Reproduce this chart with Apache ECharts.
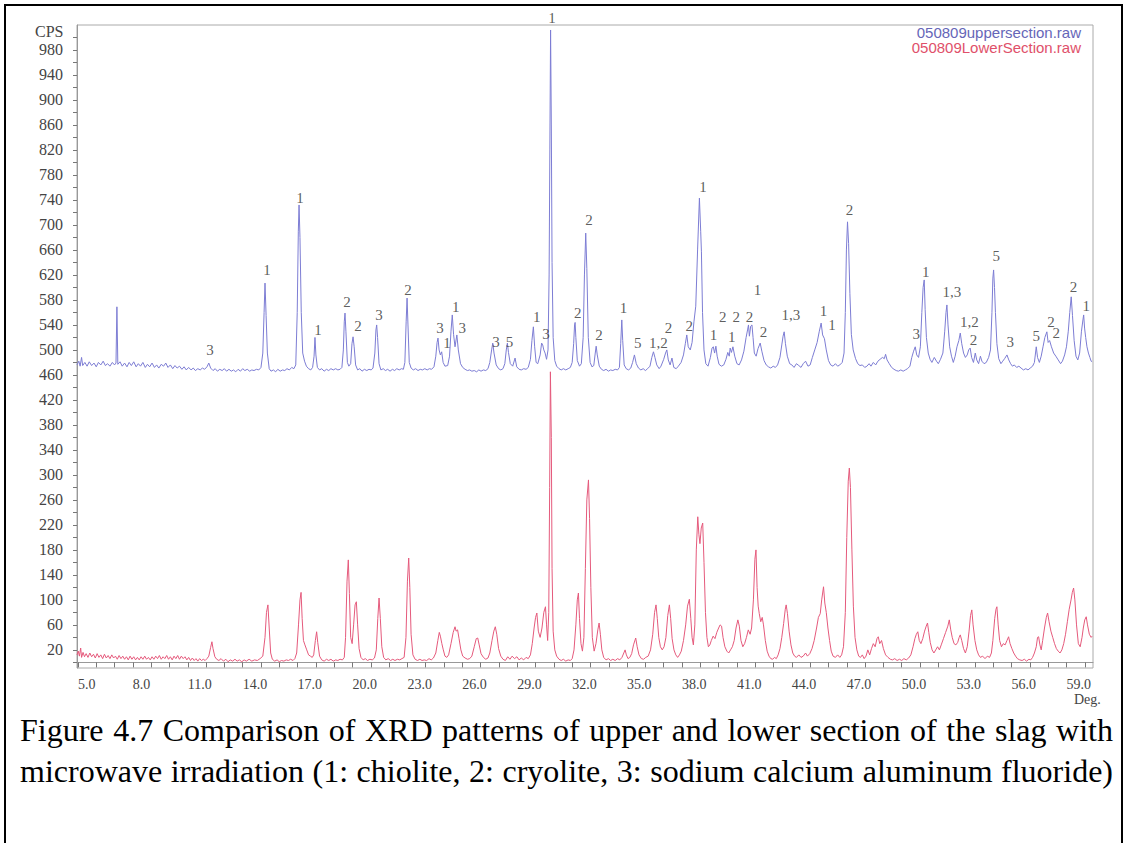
<!DOCTYPE html>
<html>
<head>
<meta charset="utf-8">
<title>XRD upper vs lower section</title>
<script src="https://cdn.jsdelivr.net/npm/echarts@6/dist/echarts.min.js"></script>
<style>
  html, body { margin: 0; padding: 0; background: #fff; }
  .page { position: relative; width: 1128px; height: 843px; overflow: hidden; }
  .frame {
    position: absolute; left: 4px; top: 4px; width: 1115px; height: 900px;
    border: 2px solid #000;
  }
  #xrdChart { position: absolute; left: 0; top: 0; width: 1128px; height: 715px; }
  .caption {
    position: absolute; left: 20px; top: 710px; width: 1093px;
    font-family: "Liberation Serif", "DejaVu Serif", serif;
    font-size: 32px; line-height: 41px; color: #000;
    text-align: justify; text-align-last: justify;
  }
</style>
</head>
<body>
<div class="page">
  <div class="frame"></div>
  <div id="xrdChart"></div>
  <div class="caption">Figure 4.7 Comparison of XRD patterns of upper and lower section of the slag with microwave irradiation (1: chiolite, 2: cryolite, 3: sodium calcium aluminum fluoride)</div>
</div>

<script>
// file names shown top right
const seriesNames = ['050809uppersection.raw', '050809LowerSection.raw']

// tick labels
const xLabels = [5, 8, 11, 14, 17, 20, 23, 26, 29, 32, 35, 38, 41, 44, 47, 50, 53, 56, 59]
const xTicks = [5, 6, 7, 8, 9, 10, 11, 12, 13, 14, 15, 16, 17, 18, 19, 20, 21, 22, 23, 24, 25, 26, 27, 28, 29, 30, 31, 32, 33, 34, 35, 36, 37, 38, 39, 40, 41, 42, 43, 44, 45, 46, 47, 48, 49, 50, 51, 52, 53, 54, 55, 56, 57, 58, 59, 60]
const yLabels = [20, 60, 100, 140, 180, 220, 260, 300, 340, 380, 420, 460, 500, 540, 580, 620, 660, 700, 740, 780, 820, 860, 900, 940, 980]
const yTicks = [0, 20, 40, 60, 80, 100, 120, 140, 160, 180, 200, 220, 240, 260, 280, 300, 320, 340, 360, 380, 400, 420, 440, 460, 480, 500, 520, 540, 560, 580, 600, 620, 640, 660, 680, 700, 720, 740, 760, 780, 800, 820, 840, 860, 880, 900, 920, 940, 960, 980, 1000]

// upper section pattern [2theta, CPS] (drawn offset above the lower one)
const upperTrace = [
  [4.95,476],[5.05,482],[5.12,474],[5.2,488],[5.26,475],[5.38,480],[5.5,474],[5.62,481],[5.75,475],[5.88,479],
  [6.0,473],[6.12,480],[6.25,476],[6.38,482],[6.5,475],[6.62,478],[6.75,474],[6.88,480],[7.0,476],[7.08,479],
  [7.13,569],[7.18,477],[7.3,481],[7.42,474],[7.55,479],[7.68,473],[7.8,480],[7.92,475],[8.05,481],[8.18,473],
  [8.3,478],[8.42,474],[8.55,480],[8.68,472],[8.8,477],[8.92,473],[9.05,479],[9.18,472],[9.3,476],[9.42,471],
  [9.55,477],[9.68,474],[9.8,479],[9.92,472],[10.05,476],[10.18,470],[10.3,475],[10.42,471],[10.55,474],[10.68,469],
  [10.8,473],[10.92,468],[11.05,472],[11.18,468],[11.3,471],[11.42,467],[11.55,470],[11.68,468],[11.8,471],[11.92,469],
  [12.05,473],[12.15,479],[12.25,471],[12.38,467],[12.5,470],[12.62,466],[12.75,469],[12.88,467],[13.0,470],[13.12,466],
  [13.25,469],[13.38,466],[13.5,468],[13.62,465],[13.75,469],[13.88,466],[14.0,470],[14.12,467],[14.25,469],[14.38,466],
  [14.5,468],[14.62,467],[14.75,469],[14.88,468],[15.0,472],[15.1,495],[15.17,560],[15.22,607],[15.28,555],[15.35,495],
  [15.45,470],[15.55,466],[15.68,468],[15.8,465],[15.92,469],[16.05,466],[16.18,468],[16.3,467],[16.42,470],[16.55,468],
  [16.68,472],[16.8,470],[16.9,476],[16.98,560],[17.04,690],[17.08,732],[17.13,680],[17.2,560],[17.28,495],[17.38,482],
  [17.48,474],[17.6,470],[17.72,468],[17.82,472],[17.9,490],[17.95,520],[18.0,492],[18.08,472],[18.2,468],[18.32,470],
  [18.45,466],[18.58,469],[18.7,467],[18.82,470],[18.95,468],[19.08,470],[19.2,468],[19.32,469],[19.42,472],[19.5,500],
  [19.55,545],[19.59,559],[19.64,530],[19.72,480],[19.8,474],[19.9,478],[19.97,510],[20.03,521],[20.09,505],[20.17,476],
  [20.28,468],[20.4,470],[20.52,466],[20.65,469],[20.78,467],[20.9,469],[21.02,468],[21.12,471],[21.22,495],[21.28,532],
  [21.32,540],[21.37,520],[21.45,478],[21.55,468],[21.68,470],[21.8,467],[21.92,469],[22.05,466],[22.18,469],[22.3,467],
  [22.42,470],[22.55,468],[22.68,470],[22.78,469],[22.86,480],[22.93,545],[22.98,583],[23.03,540],[23.1,480],[23.2,471],
  [23.32,468],[23.45,470],[23.58,467],[23.7,469],[23.82,468],[23.95,470],[24.08,468],[24.2,470],[24.32,469],[24.45,473],
  [24.55,490],[24.62,512],[24.67,519],[24.73,500],[24.8,492],[24.87,497],[24.95,480],[25.05,474],[25.2,475],[25.3,490],
  [25.38,530],[25.45,556],[25.52,525],[25.6,505],[25.7,524],[25.78,500],[25.9,478],[26.02,472],[26.15,469],[26.28,467],
  [26.4,468],[26.52,466],[26.65,467],[26.78,465],[26.9,468],[27.02,466],[27.15,468],[27.28,467],[27.4,470],[27.5,480],
  [27.6,500],[27.66,511],[27.73,495],[27.85,476],[27.98,470],[28.1,468],[28.22,470],[28.32,478],[28.4,500],[28.46,511],
  [28.52,496],[28.62,478],[28.75,474],[28.88,487],[28.97,473],[29.1,469],[29.22,468],[29.35,470],[29.48,469],[29.6,472],
  [29.72,485],[29.8,515],[29.88,537],[29.95,505],[30.03,480],[30.12,478],[30.25,492],[30.33,511],[30.39,508],[30.45,500],
  [30.52,495],[30.6,485],[30.68,500],[30.74,620],[30.78,820],[30.82,1012],[30.86,860],[30.9,640],[30.96,520],[31.05,483],
  [31.15,474],[31.28,470],[31.4,468],[31.52,470],[31.65,468],[31.78,470],[31.9,472],[32.0,480],[32.08,510],[32.13,540],
  [32.16,544],[32.2,520],[32.28,483],[32.4,474],[32.5,478],[32.6,520],[32.67,620],[32.74,687],[32.8,630],[32.88,520],
  [32.98,480],[33.08,473],[33.18,475],[33.26,495],[33.31,506],[33.37,492],[33.48,474],[33.6,469],[33.72,467],[33.85,469],
  [33.98,466],[34.1,468],[34.22,467],[34.35,469],[34.48,468],[34.58,472],[34.65,510],[34.71,548],[34.76,515],[34.84,476],
  [34.95,470],[35.08,468],[35.2,471],[35.3,480],[35.4,492],[35.5,478],[35.62,471],[35.75,468],[35.88,470],[36.0,467],
  [36.12,470],[36.25,474],[36.35,488],[36.44,497],[36.52,488],[36.62,476],[36.75,470],[36.85,474],[37.0,485],[37.1,495],
  [37.17,500],[37.25,484],[37.35,476],[37.45,487],[37.55,472],[37.68,470],[37.8,474],[37.95,480],[38.08,492],[38.18,510],
  [38.26,524],[38.34,505],[38.45,500],[38.55,512],[38.65,545],[38.75,570],[38.85,660],[38.95,743],[39.02,690],[39.06,657],
  [39.12,560],[39.2,500],[39.3,478],[39.42,474],[39.55,488],[39.64,503],[39.71,505],[39.78,495],[39.85,506],[39.92,490],
  [40.02,477],[40.15,474],[40.28,476],[40.4,485],[40.5,496],[40.58,490],[40.63,503],[40.7,496],[40.78,505],[40.88,490],
  [41.0,478],[41.12,476],[41.25,484],[41.38,498],[41.5,520],[41.58,532],[41.63,540],[41.68,522],[41.75,538],[41.82,540],
  [41.88,520],[41.95,495],[42.05,490],[42.15,502],[42.27,511],[42.36,498],[42.48,483],[42.6,476],[42.72,473],[42.85,471],
  [42.98,474],[43.1,472],[43.22,476],[43.35,488],[43.45,508],[43.52,522],[43.58,529],[43.65,510],[43.75,490],[43.88,478],
  [44.0,476],[44.12,472],[44.25,478],[44.38,475],[44.5,472],[44.62,478],[44.75,482],[44.88,474],[45.0,476],[45.12,488],
  [45.25,500],[45.38,512],[45.5,530],[45.6,543],[45.68,524],[45.78,518],[45.88,500],[46.0,483],[46.12,476],[46.25,474],
  [46.38,478],[46.5,474],[46.62,476],[46.75,480],[46.85,495],[46.92,560],[46.98,660],[47.04,705],[47.1,670],[47.17,590],
  [47.25,525],[47.35,500],[47.48,486],[47.6,478],[47.72,475],[47.85,476],[47.98,472],[48.1,474],[48.22,478],[48.32,474],
  [48.45,480],[48.58,476],[48.7,482],[48.82,485],[48.95,488],[49.05,486],[49.12,493],[49.2,484],[49.32,478],[49.45,472],
  [49.58,469],[49.7,467],[49.82,466],[49.95,468],[50.08,466],[50.2,468],[50.32,470],[50.45,474],[50.55,488],[50.65,498],
  [50.74,505],[50.82,492],[50.92,488],[51.02,505],[51.1,560],[51.17,600],[51.23,612],[51.28,565],[51.35,520],[51.45,495],
  [51.55,485],[51.65,480],[51.78,488],[51.9,482],[52.0,478],[52.12,485],[52.25,495],[52.35,530],[52.42,560],[52.47,572],
  [52.53,540],[52.62,505],[52.72,490],[52.82,480],[52.92,490],[53.02,505],[53.12,515],[53.2,527],[53.28,510],[53.38,495],
  [53.48,488],[53.58,492],[53.66,500],[53.74,503],[53.82,488],[53.92,480],[54.02,495],[54.1,484],[54.2,478],[54.3,490],
  [54.38,482],[54.5,478],[54.62,480],[54.75,488],[54.85,500],[54.93,560],[54.98,615],[55.02,628],[55.07,600],[55.12,560],
  [55.2,510],[55.3,486],[55.42,478],[55.52,482],[55.62,486],[55.75,492],[55.85,484],[55.95,478],[56.05,474],[56.15,476],
  [56.28,472],[56.4,474],[56.52,471],[56.65,468],[56.78,470],[56.9,468],[57.02,471],[57.15,474],[57.25,480],[57.35,505],
  [57.42,488],[57.52,480],[57.62,490],[57.72,505],[57.82,520],[57.93,529],[58.0,512],[58.08,515],[58.18,505],[58.3,495],
  [58.42,490],[58.55,484],[58.68,478],[58.78,482],[58.9,492],[59.0,505],[59.1,530],[59.18,560],[59.26,585],[59.33,555],
  [59.42,515],[59.52,490],[59.62,484],[59.72,495],[59.82,530],[59.9,548],[59.94,556],[59.99,535],[60.05,520],[60.12,505],
  [60.2,495],[60.28,488],[60.35,482],[60.4,481]
]

// lower section pattern [2theta, CPS]
const lowerTrace = [
  [4.95,12],[5.02,18],[5.08,10],[5.15,23],[5.2,8],[5.28,16],[5.36,9],[5.45,14],[5.55,8],[5.65,15],
  [5.75,9],[5.85,13],[5.95,7],[6.05,14],[6.15,8],[6.25,12],[6.35,6],[6.45,13],[6.55,7],[6.65,11],
  [6.75,6],[6.85,12],[6.95,7],[7.05,10],[7.15,5],[7.25,11],[7.35,6],[7.45,10],[7.55,5],[7.65,9],
  [7.75,4],[7.85,10],[7.95,5],[8.05,9],[8.15,4],[8.25,8],[8.35,4],[8.45,9],[8.55,5],[8.65,10],
  [8.75,5],[8.85,8],[8.95,4],[9.05,9],[9.15,5],[9.25,10],[9.35,6],[9.45,11],[9.55,5],[9.65,9],
  [9.75,6],[9.85,11],[9.95,5],[10.05,9],[10.15,4],[10.25,10],[10.35,6],[10.45,11],[10.55,5],[10.65,10],
  [10.75,6],[10.85,9],[10.95,4],[11.05,8],[11.15,3],[11.25,7],[11.35,3],[11.45,6],[11.55,2],[11.65,6],
  [11.75,3],[11.85,5],[11.95,3],[12.05,6],[12.15,10],[12.25,24],[12.32,33],[12.38,22],[12.48,9],[12.58,5],
  [12.7,3],[12.82,6],[12.95,2],[13.08,5],[13.2,1],[13.32,4],[13.45,2],[13.58,5],[13.7,2],[13.82,4],
  [13.95,1],[14.08,4],[14.2,2],[14.35,5],[14.5,2],[14.65,4],[14.8,3],[14.95,6],[15.1,10],[15.22,40],
  [15.3,80],[15.38,92],[15.45,55],[15.53,15],[15.62,5],[15.75,2],[15.88,4],[16.0,1],[16.12,3],[16.25,2],
  [16.38,4],[16.5,3],[16.62,5],[16.75,3],[16.85,6],[16.95,15],[17.05,60],[17.13,100],[17.19,112],[17.25,70],
  [17.32,35],[17.4,28],[17.5,20],[17.6,12],[17.7,10],[17.8,8],[17.88,12],[17.97,35],[18.04,49],[18.1,32],
  [18.2,10],[18.32,4],[18.45,2],[18.58,5],[18.7,3],[18.82,5],[18.95,2],[19.08,4],[19.2,3],[19.32,5],
  [19.45,4],[19.55,8],[19.62,40],[19.7,130],[19.77,164],[19.83,110],[19.9,40],[19.98,30],[20.06,60],[20.14,92],
  [20.21,97],[20.28,60],[20.36,22],[20.46,8],[20.58,4],[20.7,6],[20.82,3],[20.95,5],[21.08,4],[21.2,7],
  [21.3,20],[21.38,70],[21.45,103],[21.52,70],[21.6,25],[21.7,8],[21.82,4],[21.95,6],[22.08,3],[22.2,5],
  [22.32,3],[22.45,5],[22.58,4],[22.7,6],[22.82,8],[22.92,40],[23.0,130],[23.07,167],[23.13,120],[23.2,45],
  [23.3,12],[23.42,5],[23.55,3],[23.68,5],[23.8,3],[23.92,4],[24.05,3],[24.18,6],[24.3,4],[24.42,7],
  [24.55,15],[24.66,35],[24.74,48],[24.8,42],[24.88,30],[24.96,20],[25.05,10],[25.15,8],[25.25,12],[25.38,30],
  [25.5,48],[25.6,57],[25.66,50],[25.74,52],[25.82,38],[25.92,20],[26.02,10],[26.15,7],[26.28,5],[26.4,6],
  [26.52,10],[26.65,25],[26.76,38],[26.84,39],[26.92,28],[27.02,14],[27.15,8],[27.28,5],[27.4,7],[27.5,15],
  [27.62,35],[27.72,50],[27.8,57],[27.88,45],[27.98,22],[28.1,10],[28.22,5],[28.35,3],[28.48,9],[28.6,5],
  [28.72,10],[28.85,6],[28.98,9],[29.1,4],[29.22,7],[29.35,4],[29.48,8],[29.6,6],[29.72,12],[29.82,30],
  [29.92,55],[30.0,72],[30.07,79],[30.15,50],[30.25,40],[30.35,55],[30.45,80],[30.54,89],[30.6,60],[30.66,35],
  [30.72,80],[30.77,280],[30.81,465],[30.86,360],[30.9,150],[30.96,50],[31.05,20],[31.15,10],[31.28,5],[31.4,3],
  [31.52,5],[31.65,2],[31.78,4],[31.9,3],[32.0,6],[32.1,20],[32.2,60],[32.28,100],[32.34,111],[32.4,70],
  [32.48,30],[32.56,18],[32.64,40],[32.72,150],[32.8,260],[32.89,292],[32.95,230],[33.02,120],[33.1,40],[33.2,18],
  [33.3,30],[33.4,52],[33.47,63],[33.54,45],[33.62,20],[33.72,8],[33.85,4],[33.98,6],[34.1,3],[34.22,5],
  [34.35,3],[34.48,6],[34.6,4],[34.72,8],[34.82,15],[34.89,20],[34.96,12],[35.05,6],[35.15,8],[35.25,14],
  [35.35,28],[35.47,39],[35.55,25],[35.65,12],[35.78,6],[35.9,5],[36.02,8],[36.15,10],[36.28,20],[36.4,45],
  [36.5,80],[36.58,92],[36.65,70],[36.73,40],[36.82,25],[36.92,20],[37.02,25],[37.12,40],[37.22,75],[37.31,92],
  [37.38,70],[37.46,38],[37.56,20],[37.66,12],[37.76,8],[37.86,12],[37.96,18],[38.08,35],[38.2,60],[38.3,90],
  [38.4,101],[38.48,70],[38.55,40],[38.62,28],[38.7,60],[38.78,180],[38.86,233],[38.92,205],[38.98,190],[39.05,215],
  [39.13,223],[39.2,160],[39.28,80],[39.36,40],[39.44,25],[39.52,28],[39.6,35],[39.7,42],[39.8,38],[39.9,48],
  [40.0,55],[40.08,60],[40.16,58],[40.24,40],[40.34,25],[40.45,18],[40.55,15],[40.65,20],[40.75,25],[40.85,35],
  [40.95,55],[41.05,68],[41.13,58],[41.22,35],[41.32,25],[41.42,30],[41.52,40],[41.62,52],[41.72,45],[41.8,55],
  [41.9,100],[41.98,165],[42.04,180],[42.1,120],[42.16,90],[42.22,78],[42.3,65],[42.38,72],[42.45,60],[42.55,35],
  [42.65,18],[42.75,10],[42.85,6],[42.95,5],[43.05,8],[43.15,6],[43.25,12],[43.35,22],[43.45,40],[43.55,62],
  [43.64,85],[43.69,92],[43.76,78],[43.85,50],[43.95,28],[44.05,15],[44.15,10],[44.25,8],[44.38,12],[44.5,8],
  [44.62,10],[44.75,15],[44.85,10],[44.98,14],[45.1,22],[45.22,35],[45.35,55],[45.45,72],[45.55,78],[45.63,100],
  [45.73,121],[45.8,95],[45.88,80],[45.97,55],[46.06,35],[46.15,18],[46.25,10],[46.38,8],[46.5,12],[46.62,8],
  [46.72,12],[46.82,25],[46.92,80],[47.0,200],[47.08,290],[47.14,311],[47.2,280],[47.28,180],[47.36,90],[47.45,40],
  [47.55,20],[47.65,10],[47.75,8],[47.85,12],[47.95,6],[48.05,10],[48.15,20],[48.25,12],[48.35,22],[48.45,30],
  [48.55,25],[48.65,38],[48.72,41],[48.8,30],[48.9,35],[49.0,22],[49.12,12],[49.25,8],[49.38,5],[49.5,4],
  [49.62,6],[49.75,3],[49.88,5],[50.0,3],[50.12,6],[50.25,4],[50.38,7],[50.5,12],[50.62,25],[50.72,38],
  [50.8,45],[50.88,49],[50.96,35],[51.05,30],[51.15,38],[51.25,50],[51.34,58],[51.41,63],[51.48,48],[51.56,32],
  [51.66,20],[51.76,15],[51.86,20],[51.96,25],[52.06,20],[52.16,28],[52.28,38],[52.4,48],[52.52,58],[52.6,68],
  [52.68,52],[52.76,40],[52.86,30],[52.96,28],[53.06,32],[53.14,40],[53.2,44],[53.28,35],[53.38,22],[53.48,15],
  [53.58,25],[53.68,50],[53.76,75],[53.83,84],[53.9,60],[54.0,35],[54.1,20],[54.2,12],[54.3,8],[54.42,10],
  [54.55,6],[54.68,10],[54.8,8],[54.9,15],[54.98,35],[55.08,70],[55.15,85],[55.2,89],[55.27,60],[55.35,35],
  [55.45,25],[55.55,30],[55.65,28],[55.75,35],[55.84,41],[55.92,30],[56.02,22],[56.12,15],[56.22,10],[56.32,6],
  [56.45,4],[56.58,3],[56.7,5],[56.82,2],[56.95,5],[57.05,4],[57.15,8],[57.25,15],[57.35,25],[57.42,40],
  [57.48,41],[57.55,28],[57.62,20],[57.7,35],[57.8,55],[57.9,72],[57.97,79],[58.05,65],[58.15,50],[58.25,40],
  [58.35,30],[58.45,22],[58.55,18],[58.65,15],[58.75,20],[58.85,30],[58.95,45],[59.05,65],[59.15,85],[59.25,100],
  [59.32,112],[59.39,119],[59.46,100],[59.55,60],[59.65,30],[59.75,25],[59.85,40],[59.92,55],[60.0,68],[60.08,73],
  [60.15,60],[60.25,45],[60.35,40],[60.4,42]
]

// phase labels above the upper pattern [2theta, CPS, text]
const peakLabels = [
  [12.21,500,'3'],[15.33,628,'1'],[17.13,743,'1'],[18.11,532,'1'],[19.7,577,'2'],[20.3,538,'2'],
  [21.45,556,'3'],[23.03,596,'2'],[24.78,535,'3'],[25.16,511,'1'],[25.64,569,'1'],[26.0,535,'3'],
  [27.84,512,'3'],[28.57,513,'5'],[30.07,552,'1'],[30.57,525,'3'],[30.9,1031,'1'],[32.31,559,'2'],
  [32.92,708,'2'],[33.47,524,'2'],[34.8,567,'1'],[35.58,511,'5'],[36.71,511,'1,2'],[37.26,535,'2'],
  [38.4,538,'2'],[39.14,760,'1'],[39.72,524,'1'],[40.23,552,'2'],[40.72,521,'1'],[40.96,552,'2'],
  [41.68,553,'2'],[42.12,596,'1'],[42.45,528,'2'],[43.94,556,'1,3'],[45.73,562,'1'],[46.19,540,'1'],
  [47.15,724,'2'],[50.79,526,'3'],[51.32,624,'1'],[52.74,593,'1,3'],[53.7,545,'1,2'],[53.92,516,'2'],
  [55.16,650,'5'],[55.93,512,'3'],[57.35,522,'5'],[58.15,544,'2'],[58.44,527,'2'],[59.39,601,'2'],
  [60.08,570,'1']
]

const colors = ['#7d7dd4', '#e55a7c']
const serif = '"Liberation Serif", "DejaVu Serif", serif'

let myChart = echarts.init(document.getElementById('xrdChart'), null, { renderer: 'svg' })

const option = {
  animation: false,
  backgroundColor: 'transparent',
  grid: {
    left: 77, right: 35, top: 25, bottom: 47,
    show: true, borderColor: '#aaa', borderWidth: 1,
  },
  legend: {
    right: 37, top: 20,
    orient: 'vertical', align: 'right',
    icon: 'none', itemWidth: 0, itemHeight: 12, itemGap: 0,
    textStyle: { fontFamily: '"Liberation Sans", Arial, sans-serif', fontSize: 15, lineHeight: 14, padding: 0 },
    data: [
      { name: seriesNames[0], textStyle: { color: '#6666b8' } },
      { name: seriesNames[1], textStyle: { color: '#e0506a' } },
    ],
    selectedMode: false,
  },
  xAxis: {
    type: 'value', min: 4.95, max: 60.45,
    axisLine: { show: true, lineStyle: { color: '#999' } },
    axisTick: { show: true, length: 5, customValues: xTicks, lineStyle: { color: '#777' } },
    axisLabel: {
      customValues: xLabels, align: 'left', margin: 9,
      fontFamily: serif, fontSize: 14, color: '#444',
      formatter: v => v.toFixed(1),
    },
    splitLine: { show: false },
  },
  yAxis: {
    type: 'value', min: -9, max: 1020,
    axisLine: { show: true, lineStyle: { color: '#999' } },
    axisTick: { show: true, length: 4, customValues: yTicks, lineStyle: { color: '#777' } },
    axisLabel: {
      customValues: yLabels, margin: 14,
      fontFamily: serif, fontSize: 16, color: '#444',
    },
    splitLine: { show: false },
  },
  graphic: [
    { type: 'text', left: 35, top: 23, style: { text: 'CPS', font: '16px ' + serif, fill: '#444' } },
    { type: 'text', left: 1074, top: 692, style: { text: 'Deg.', font: '14px ' + serif, fill: '#444' } },
  ],
  series: [
    {
      name: seriesNames[0], type: 'line', data: upperTrace,
      showSymbol: false, lineStyle: { width: 1, color: colors[0] }, itemStyle: { color: colors[0] },
    },
    {
      name: seriesNames[1], type: 'line', data: lowerTrace,
      showSymbol: false, lineStyle: { width: 1, color: colors[1] }, itemStyle: { color: colors[1] },
    },
    {
      name: 'labels', type: 'scatter', data: peakLabels, clip: false, silent: true,
      symbolSize: 1, itemStyle: { color: 'rgba(0,0,0,0)' },
      label: {
        show: true, position: 'inside', formatter: p => p.data[2],
        fontFamily: serif, fontSize: 15, color: '#333',
      },
      z: 5,
    },
  ],
}

// 绘制图表
myChart.setOption(option)
</script>
</body>
</html>
